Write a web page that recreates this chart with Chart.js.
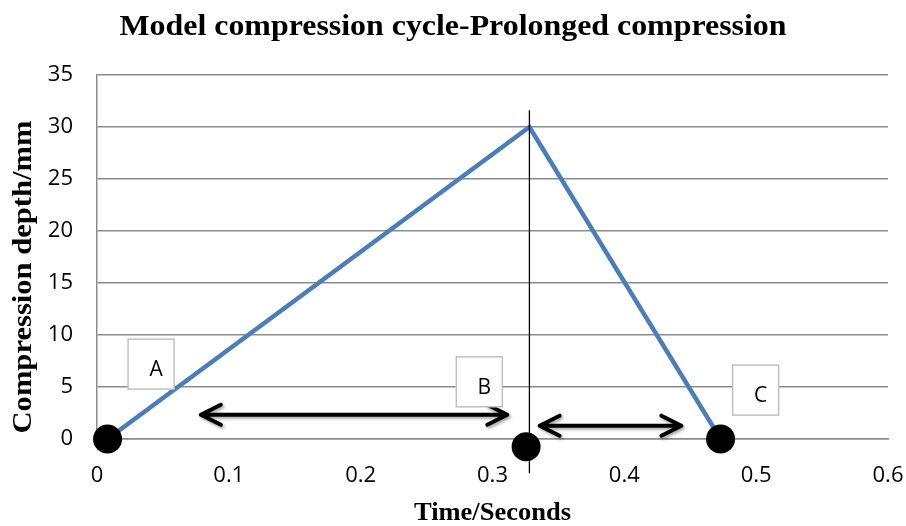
<!DOCTYPE html>
<html><head><meta charset="utf-8">
<script src="https://cdn.jsdelivr.net/npm/chart.js@4.4.1/dist/chart.umd.min.js"></script>
<style>html,body{margin:0;padding:0;background:#fff}#wrap{width:906px;height:526px}</style>
</head><body><div id="wrap"><canvas id="c" width="906" height="526"></canvas></div>
<script>
const chartTitle = 'Model compression cycle-Prolonged compression';
const xAxisTitle = 'Time/Seconds';
const yAxisTitle = 'Compression depth/mm';
const lineX = [0.008, 0.328, 0.473];
const lineY = [0, 30, 0];
const markerX = [0.008, 0.3255, 0.473];
const markerY = [0, -0.75, 0];
const guideX = [0.328, 0.328];
const guideY = [31.6, -3.3];
const arrowStartX = [0.078, 0.335];
const arrowEndX = [0.312, 0.444];
const arrowY = [2.33, 1.28];
const labelText = ['A', 'B', 'C'];
const labelX = [0.041, 0.290, 0.4996];
const labelY = [7.2, 5.5, 4.7];
const xTicks = [0, 0.1, 0.2, 0.3, 0.4, 0.5, 0.6];
const yTicks = [0, 5, 10, 15, 20, 25, 30, 35];

const pts = (xs, ys) => xs.map((x, i) => ({x, y: ys[i]}));

function fitText(ctx, text, x, y, targetW) {
  const w = ctx.measureText(text).width;
  ctx.save();
  ctx.translate(x, y);
  ctx.scale(targetW / w, 1);
  ctx.fillText(text, 0, 0);
  ctx.restore();
}

const overlay = {
  id: 'overlay',
  afterDatasetsDraw(chart) {
    const ctx = chart.ctx, xs = chart.scales.x, ys = chart.scales.y;
    ctx.save();
    ctx.strokeStyle = '#000';
    ctx.lineWidth = 4;
    ctx.lineCap = 'round';
    ctx.lineJoin = 'round';
    ctx.shadowColor = 'rgba(0,0,0,0.35)';
    ctx.shadowBlur = 3;
    ctx.shadowOffsetX = 1.5;
    ctx.shadowOffsetY = 2;
    for (let i = 0; i < arrowY.length; i++) {
      const x1 = xs.getPixelForValue(arrowStartX[i]);
      const x2 = xs.getPixelForValue(arrowEndX[i]);
      const y = ys.getPixelForValue(arrowY[i]);
      ctx.beginPath();
      ctx.moveTo(x1 + 1, y); ctx.lineTo(x2 - 1, y);
      ctx.moveTo(x1 + 21, y - 10); ctx.lineTo(x1 + 1, y); ctx.lineTo(x1 + 21, y + 10);
      ctx.moveTo(x2 - 21, y - 10); ctx.lineTo(x2 - 1, y); ctx.lineTo(x2 - 21, y + 10);
      ctx.stroke();
    }
    ctx.restore();
    ctx.save();
    for (let i = 0; i < labelText.length; i++) {
      const cx = xs.getPixelForValue(labelX[i]);
      const cy = ys.getPixelForValue(labelY[i]);
      const w = 46, h = 50;
      ctx.fillStyle = '#fff';
      ctx.fillRect(cx - w / 2, cy - h / 2, w, h);
      ctx.strokeStyle = '#c0c0c0';
      ctx.lineWidth = 1.5;
      ctx.strokeRect(cx - w / 2, cy - h / 2, w, h);
      ctx.fillStyle = '#000';
      ctx.font = '21px "Open Sans"';
      ctx.textAlign = 'center';
      ctx.textBaseline = 'middle';
      ctx.fillText(labelText[i], cx + 5, cy + 6);
    }
    ctx.restore();
  },
  afterDraw(chart) {
    const ctx = chart.ctx, a = chart.chartArea;
    ctx.save();
    ctx.fillStyle = '#000';
    ctx.textAlign = 'center';
    ctx.textBaseline = 'middle';
    ctx.font = 'bold 30px "Liberation Serif"';
    fitText(ctx, chartTitle, 453, 27, 667);
    ctx.font = 'bold 26px "Liberation Serif"';
    fitText(ctx, xAxisTitle, (a.left + a.right) / 2, 513, 157);
    ctx.translate(24, 277);
    ctx.rotate(-Math.PI / 2);
    ctx.font = 'bold 27px "Liberation Serif"';
    fitText(ctx, yAxisTitle, 0, 0, 313);
    ctx.restore();
  }
};

new Chart(document.getElementById('c'), {
  type: 'scatter',
  data: {
    datasets: [
      { data: pts(lineX, lineY), showLine: true, borderColor: '#4a7ebb', borderWidth: 4.5,
        pointRadius: 0, pointHoverRadius: 0, tension: 0, order: 3 },
      { data: pts(guideX, guideY), showLine: true, borderColor: '#000', borderWidth: 1.3,
        pointRadius: 0, pointHoverRadius: 0, clip: false, order: 2 },
      { data: pts(markerX, markerY), showLine: false, backgroundColor: '#000', borderColor: '#000',
        pointRadius: 14.5, pointHoverRadius: 14.5, borderWidth: 0, clip: false, order: 1 }
    ]
  },
  options: {
    responsive: false,
    animation: false,
    events: [],
    layout: { padding: { top: 75, right: 0, left: 0, bottom: 0 } },
    plugins: { legend: { display: false }, title: { display: false }, tooltip: { enabled: false } },
    scales: {
      x: {
        type: 'linear', min: 0, max: 0.6,
        afterBuildTicks(s) { s.ticks = xTicks.map(v => ({ value: v })); },
        afterFit(s) { s.height = 87; s.paddingRight = 18; s.paddingLeft = 0; },
        grid: { display: false, drawTicks: false },
        border: { display: true, color: '#8c8c8c', width: 1.5 },
        ticks: { padding: 24, color: '#000', font: { family: 'Open Sans', size: 22 },
                 maxRotation: 0, callback: v => String(v) }
      },
      y: {
        type: 'linear', min: 0, max: 35,
        afterBuildTicks(s) { s.ticks = yTicks.map(v => ({ value: v })); },
        afterFit(s) { s.width = 97; s.paddingTop = 0; s.paddingBottom = 0; },
        grid: { color: '#8c8c8c', lineWidth: 1.5, drawTicks: false },
        border: { display: true, color: '#8c8c8c', width: 1.5 },
        ticks: { padding: 24, color: '#000', font: { family: 'Open Sans', size: 22 },
                 callback: v => String(v) }
      }
    }
  },
  plugins: [overlay]
});
</script></body></html>
